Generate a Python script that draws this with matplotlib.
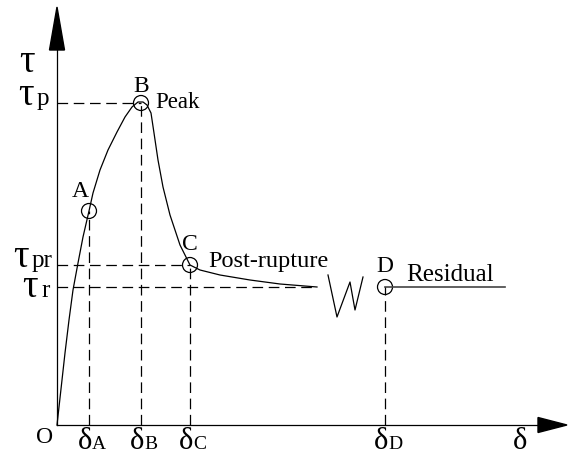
import matplotlib.pyplot as plt
from matplotlib.patches import Circle, Polygon

plt.rcParams['font.family'] = ['Liberation Serif', 'DejaVu Serif']

# shear stress - slip curve (delta, tau)
curve_delta = [0, 4, 8, 12, 16, 21, 26, 32, 36, 43, 51, 60, 68, 75, 81, 86, 90,
               94, 97, 101, 106, 113, 123, 133, 143, 163, 193, 223, 260]
curve_tau = [0, 36, 72, 105, 135, 162, 188, 214, 232, 255, 275, 293, 308, 318, 323,
             323, 320, 312, 292, 265, 238, 210, 180, 160, 155, 150, 145, 141, 138]

# characteristic points A, B, C, D
point_names = ['A', 'B', 'C', 'D']
point_delta = [32, 84, 133, 328]
point_tau = [214, 322, 160, 138]
delta_labels = ['A', 'B', 'C', 'D']

tau_p, tau_pr, tau_r = 322, 160, 138
residual_end = 448

# break symbol (W) between post-rupture and residual
break_delta = [271, 280, 293, 298, 306]
break_tau = [150, 108, 143, 115, 148]

LC = 'black'
LW = 0.9
DASH = (0, (8.5, 4.5))

fig = plt.figure(figsize=(5.7, 4.55), dpi=100)
ax = fig.add_axes([0, 0, 1, 1])
ax.set_xlim(-57, 513)
ax.set_ylim(-30, 425)
ax.axis('off')

# axes with arrow heads
ax.plot([0, 0], [0, 380], color=LC, lw=LW)
ax.add_patch(Polygon([[-7.5, 375], [7.5, 375], [0, 418]], closed=True, color=LC))
ax.plot([0, 485], [0, 0], color=LC, lw=LW)
ax.add_patch(Polygon([[481, 7.5], [481, -7.5], [510, 0]], closed=True, color=LC))

# curve
ax.plot(curve_delta, curve_tau, color=LC, lw=LW)
ax.plot(break_delta, break_tau, color=LC, lw=LW)
ax.plot([point_delta[3], residual_end], [tau_r, tau_r], color='#444444', lw=1.2)

# dashed guides
ax.plot([0, point_delta[1]], [tau_p, tau_p], color=LC, lw=LW, linestyle=DASH)
ax.plot([0, point_delta[2]], [tau_pr, tau_pr], color=LC, lw=LW, linestyle=DASH)
ax.plot([0, curve_delta[-1]], [tau_r, tau_r], color=LC, lw=LW, linestyle=DASH)
for d, t in zip(point_delta, point_tau):
    ax.plot([d, d], [0, t], color=LC, lw=LW, linestyle=DASH)
    ax.add_patch(Circle((d, t), 7.5, fill=False, color=LC, lw=LW))

# point labels
label_off = [(-9, 14), (0, 11), (0, 15), (0, 15)]
for name, d, t, (dx, dy) in zip(point_names, point_delta, point_tau, label_off):
    ax.text(d + dx, t + dy, name, fontsize=17, ha='center', va='baseline')

ax.text(98, 317, 'Peak', fontsize=16.5, ha='left', va='baseline')
ax.text(151, 158, 'Post-rupture', fontsize=17.5, ha='left', va='baseline')
ax.text(349, 144, 'Residual', fontsize=18, ha='left', va='baseline')

# tau labels
ax.text(-30, 353, '\u03c4', fontsize=28, ha='center', va='baseline')
for sub, t, x0 in [('p', tau_p, -39), ('pr', tau_pr, -44), ('r', tau_r, -35)]:
    base = t - 2 if sub != 'r' else t - 10
    ax.text(x0, base, '\u03c4', fontsize=28, ha='left', va='baseline')
    ax.text(x0 + 19, base, sub, fontsize=18, ha='left', va='baseline')

# delta labels
ax.text(-12, -18, 'O', fontsize=17, ha='center', va='baseline')
for sub, d in zip(delta_labels, point_delta):
    ax.text(d - 11, -24, '\u03b4', fontsize=22, ha='left', va='baseline')
    ax.text(d + 3, -24, sub, fontsize=14, ha='left', va='baseline')
ax.text(463, -24, '\u03b4', fontsize=22, ha='center', va='baseline')

fig.savefig('out.png', dpi=100)
